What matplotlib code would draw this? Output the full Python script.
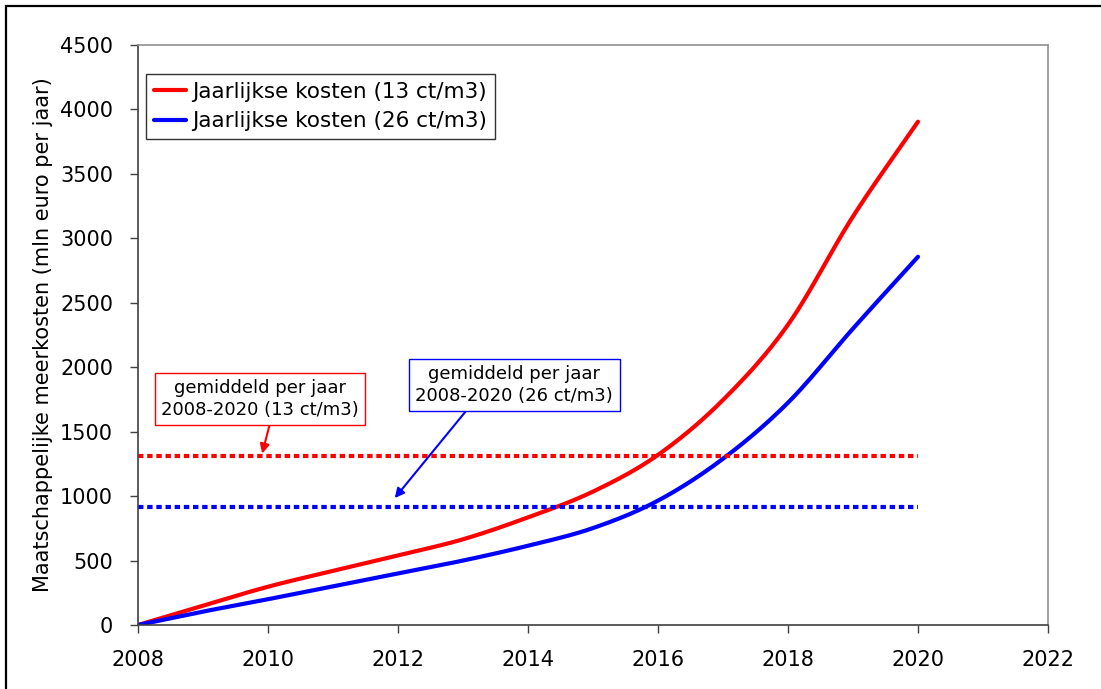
import matplotlib
matplotlib.use("Agg")
import matplotlib.pyplot as plt
from matplotlib.patches import Rectangle
import numpy as np

# data
years = [2008, 2009, 2010, 2011, 2012, 2013, 2014, 2015, 2016, 2017, 2018, 2019, 2020]
kosten_13 = [0, 150, 297, 420, 540, 665, 835, 1035, 1320, 1746, 2330, 3170, 3905]
kosten_26 = [0, 104, 200, 300, 400, 500, 615, 752, 965, 1290, 1725, 2300, 2857]
gem_13 = 1310
gem_26 = 912
gem_years = [2008, 2020]


def smooth(x, y, n=20):
    # catmull-rom style smoothing, like excel's "smoothed line"
    x = np.asarray(x, float)
    y = np.asarray(y, float)
    px = np.concatenate([[2 * x[0] - x[1]], x, [2 * x[-1] - x[-2]]])
    py = np.concatenate([[2 * y[0] - y[1]], y, [2 * y[-1] - y[-2]]])
    xs, ys = [], []
    t = np.linspace(0, 1, n, endpoint=False)
    for i in range(1, len(px) - 2):
        for p, out in ((px, xs), (py, ys)):
            p0, p1, p2, p3 = p[i - 1], p[i], p[i + 1], p[i + 2]
            out.extend(0.5 * (2 * p1 + (-p0 + p2) * t + (2 * p0 - 5 * p1 + 4 * p2 - p3) * t ** 2
                              + (-p0 + 3 * p1 - 3 * p2 + p3) * t ** 3))
    xs.append(x[-1])
    ys.append(y[-1])
    return xs, ys


plt.rcParams['font.family'] = ['DejaVu Sans']

fig = plt.figure(figsize=(11.01, 6.89), dpi=100)
ax = fig.add_axes([138 / 1101, 1 - 625 / 689, 910 / 1101, 580 / 689])

x13, y13 = smooth(years, kosten_13)
x26, y26 = smooth(years, kosten_26)
ax.plot(x13, y13, color='#ff0000', lw=3, label='Jaarlijkse kosten (13 ct/m3)', solid_capstyle='round')
ax.plot(x26, y26, color='#0000ff', lw=3, label='Jaarlijkse kosten (26 ct/m3)', solid_capstyle='round')

ax.plot(gem_years, [gem_13, gem_13], color='#ff0000', lw=3, dashes=(1.3, 0.9), dash_capstyle='butt')
ax.plot(gem_years, [gem_26, gem_26], color='#0000ff', lw=3, dashes=(1.3, 0.9), dash_capstyle='butt')

ax.set_xlim(2008, 2022)
ax.set_ylim(0, 4500)
ax.set_xticks(range(2008, 2023, 2))
ax.set_yticks(range(0, 4501, 500))
ax.tick_params(axis='both', labelsize=15, direction='out', length=6, width=1, color='#404040')
ax.tick_params(axis='x', pad=12)
ax.tick_params(axis='y', pad=12)
ax.set_ylabel('Maatschappelijke meerkosten (mln euro per jaar)', fontsize=15, labelpad=5)

for s in ['left', 'bottom']:
    ax.spines[s].set_color('#404040')
    ax.spines[s].set_linewidth(1.2)
for s in ['top', 'right']:
    ax.spines[s].set_color('#909090')
    ax.spines[s].set_linewidth(1.2)

leg = ax.legend(loc='upper left', bbox_to_anchor=(0.009, 0.95), fontsize=15.5, frameon=True,
                fancybox=False, edgecolor='black', handlelength=1.5, handletextpad=0.3,
                borderpad=0.35, labelspacing=0.45, borderaxespad=0)
leg.get_frame().set_linewidth(1)

ax.annotate('gemiddeld per jaar\n2008-2020 (13 ct/m3)', xy=(2009.91, 1330), xytext=(2009.88, 1753),
            ha='center', va='center', fontsize=13, linespacing=1.3,
            bbox=dict(boxstyle='square,pad=0.35', fc='white', ec='#ff0000', lw=1),
            arrowprops=dict(arrowstyle='-|>', color='#ff0000', lw=1.5, relpos=(0.555, 0),
                            mutation_scale=14, shrinkA=0, shrinkB=0))
ax.annotate('gemiddeld per jaar\n2008-2020 (26 ct/m3)', xy=(2011.95, 985), xytext=(2013.79, 1862),
            ha='center', va='center', fontsize=13, linespacing=1.3,
            bbox=dict(boxstyle='square,pad=0.35', fc='white', ec='#0000ff', lw=1),
            arrowprops=dict(arrowstyle='-|>', color='#0000ff', lw=1.5, relpos=(0.28, 0),
                            mutation_scale=14, shrinkA=0, shrinkB=0))

# outer frame around the whole chart
fig.patches.append(Rectangle((6 / 1101, -0.05), 1.2, 1 - 6 / 689 + 0.05, transform=fig.transFigure,
                             fill=False, ec='black', lw=1.6))

fig.savefig('out.png', dpi=100)
